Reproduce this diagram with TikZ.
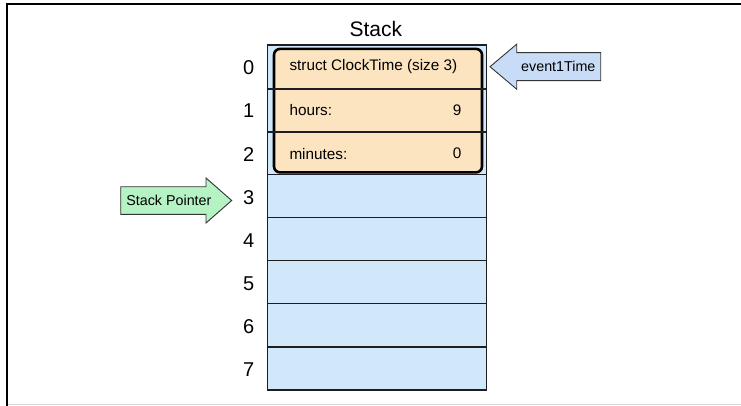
\documentclass[tikz,border=0pt]{standalone}
\usepackage{fontspec}
\setmainfont{Liberation Sans}
\definecolor{cellblue}{RGB}{209,232,250}
\definecolor{structorange}{RGB}{252,228,192}
\definecolor{ptrgreen}{RGB}{182,243,196}
\definecolor{arrowblue}{RGB}{201,220,247}
\definecolor{cellline}{RGB}{30,30,34}
\definecolor{framegray}{RGB}{215,215,215}
\begin{document}
\begin{tikzpicture}[x=1pt,y=-1pt,
  cell/.style={draw=cellline, fill=cellblue, line width=1.3pt, inner sep=0pt,
    minimum width=219.5pt, minimum height=43.1pt, anchor=north west},
  structbox/.style={draw=black, fill=structorange, line width=2.6pt, rounded corners=6pt,
    inner sep=0pt, minimum width=208pt, minimum height=123.5pt, anchor=north west},
  sepline/.style={draw=cellline, line width=1.3pt},
  idx/.style={font=\fontsize{20}{24}\selectfont, inner sep=0pt, anchor=center},
  body/.style={font=\fontsize{15.3}{18}\selectfont, inner sep=0pt},
  tag/.style={font=\fontsize{14.3}{17}\selectfont, inner sep=0pt},
  blockarrow/.style={draw=black!80, line width=0.9pt, line join=miter},
  frameline/.style={draw=black, line width=2pt}
]
\useasboundingbox (0,0) rectangle (741,406);
% frame
\draw[frameline] (7,406) -- (7,4.3) -- (741,4.3);
\draw[draw=framegray, line width=1pt] (8,404.5) -- (741,404.5);
% title
\node[font=\fontsize{21}{25}\selectfont, inner sep=0pt] (title) at (375.8,28.6) {Stack};
% cells
\foreach \i in {0,...,7}{
  \node[cell] (c\i) at (266.5,{44.5+43.1*\i}) {};
  \node[idx] (i\i) at (248.6,{68+43.1*\i}) {\i};
}
% struct
\node[structbox] (struct) at (272.7,47.6) {};
\draw[sepline] (c0.south west) -- (c0.south east);
\draw[sepline] (c1.south west) -- (c1.south east);
\node[body, anchor=west] (sname) at (289.3,66.6) {struct ClockTime (size 3)};
\node[body, anchor=west] (hlabel) at (289.3,110.2) {hours:};
\node[body, anchor=east] (hval) at (461.6,110.2) {9};
\node[body, anchor=west] (mlabel) at (289.3,153.6) {minutes:};
\node[body, anchor=east] (mval) at (461.6,153.6) {0};
% event1Time arrow
\draw[blockarrow, fill=arrowblue] (490,66.7) -- (516.7,44.2) -- (516.7,52.7) -- (600.7,52.7)
  -- (600.7,80.7) -- (516.7,80.7) -- (516.7,89.2) -- cycle;
\node[tag] (evt) at (558.3,66.7) {event1Time};
% Stack Pointer arrow
\draw[blockarrow, fill=ptrgreen] (231.7,200.5) -- (206,178) -- (206,186.8) -- (120.7,186.8)
  -- (120.7,214.3) -- (206,214.3) -- (206,223) -- cycle;
\node[tag] (sp) at (168.9,200.5) {Stack Pointer};
\end{tikzpicture}
\end{document}
